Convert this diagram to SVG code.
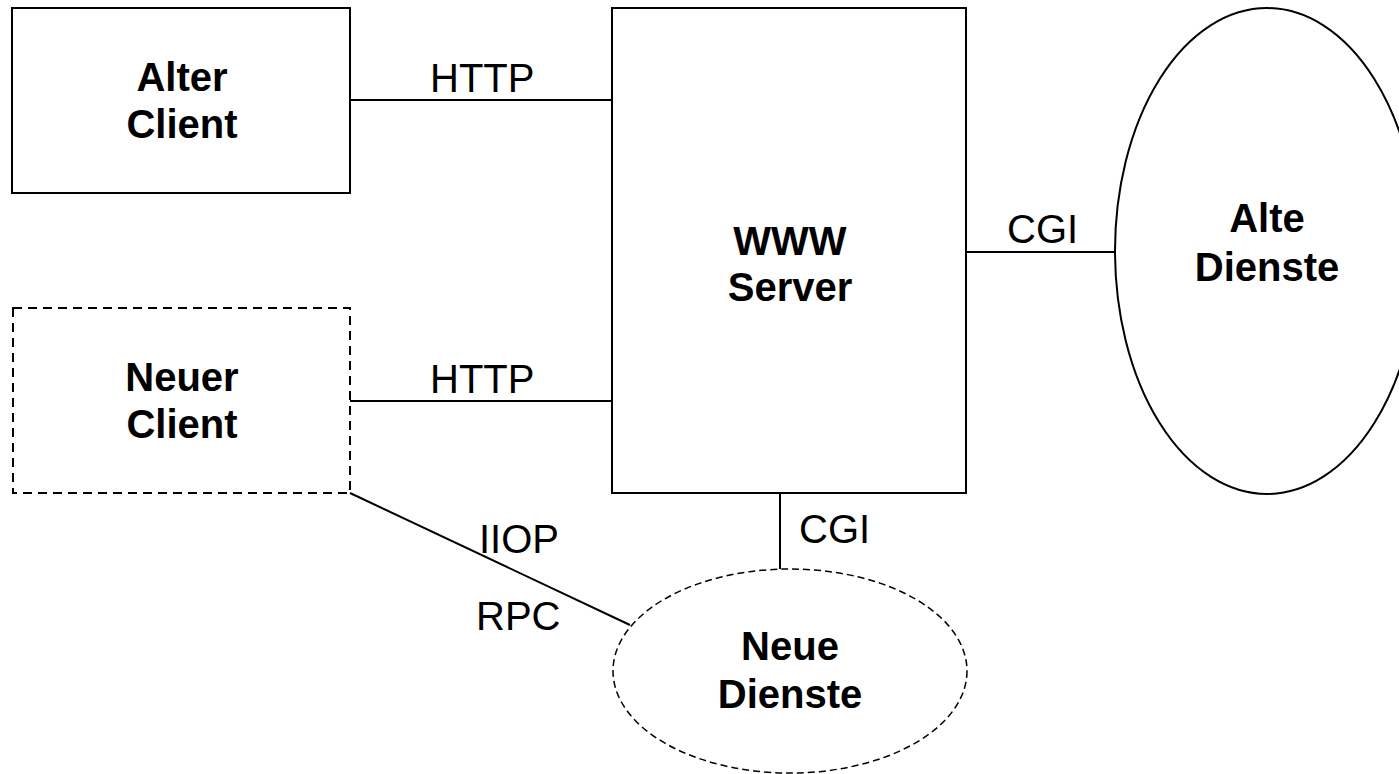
<svg xmlns="http://www.w3.org/2000/svg" width="1399" height="774" viewBox="0 0 1399 774">
<style>
.box{fill:#fff;stroke:#000;stroke-width:2}
.dash{stroke-dasharray:9 6}
.edash{fill:#fff;stroke:#000;stroke-width:1.5;stroke-dasharray:7 4}
.lbl{font-family:"Liberation Sans",Arial,sans-serif;font-size:40px;font-weight:bold;text-anchor:middle;fill:#000}
.el{font-family:"Liberation Sans",Arial,sans-serif;font-size:40px;fill:#000}
.ln{stroke:#000;stroke-width:2;fill:none}
</style>
<rect width="1399" height="774" fill="#fff"/>
<g id="connectors">
<line class="ln" x1="350" y1="100" x2="612" y2="100"/>
<line class="ln" x1="350" y1="401" x2="612" y2="401"/>
<line class="ln" x1="966" y1="252" x2="1116" y2="252"/>
<line class="ln" x1="780" y1="493" x2="780" y2="569"/>
<line class="ln" x1="350" y1="493" x2="630" y2="625"/>
<text class="el" x="430" y="92">HTTP</text>
<text class="el" x="430" y="393">HTTP</text>
<text class="el" x="1007" y="243">CGI</text>
<text class="el" x="799" y="543">CGI</text>
<text class="el" x="479" y="553">IIOP</text>
<text class="el" x="476" y="630">RPC</text>
</g>
<g id="alter-client">
<rect class="box" x="12" y="8" width="338" height="185"/>
<text class="lbl" x="182" y="91">Alter</text>
<text class="lbl" x="182" y="138">Client</text>
</g>
<g id="neuer-client">
<rect class="box dash" x="13" y="308" width="337" height="185"/>
<text class="lbl" x="182" y="391">Neuer</text>
<text class="lbl" x="182" y="438">Client</text>
</g>
<g id="www-server">
<rect class="box" x="612" y="8" width="354" height="485"/>
<text class="lbl" x="790" y="255">WWW</text>
<text class="lbl" x="790" y="301">Server</text>
</g>
<g id="alte-dienste">
<ellipse class="box" cx="1267" cy="251" rx="152" ry="243"/>
<text class="lbl" x="1267" y="232">Alte</text>
<text class="lbl" x="1267" y="281">Dienste</text>
</g>
<g id="neue-dienste">
<ellipse class="edash" cx="790" cy="671" rx="177" ry="102"/>
<text class="lbl" x="790" y="660">Neue</text>
<text class="lbl" x="790" y="708">Dienste</text>
</g>
</svg>
